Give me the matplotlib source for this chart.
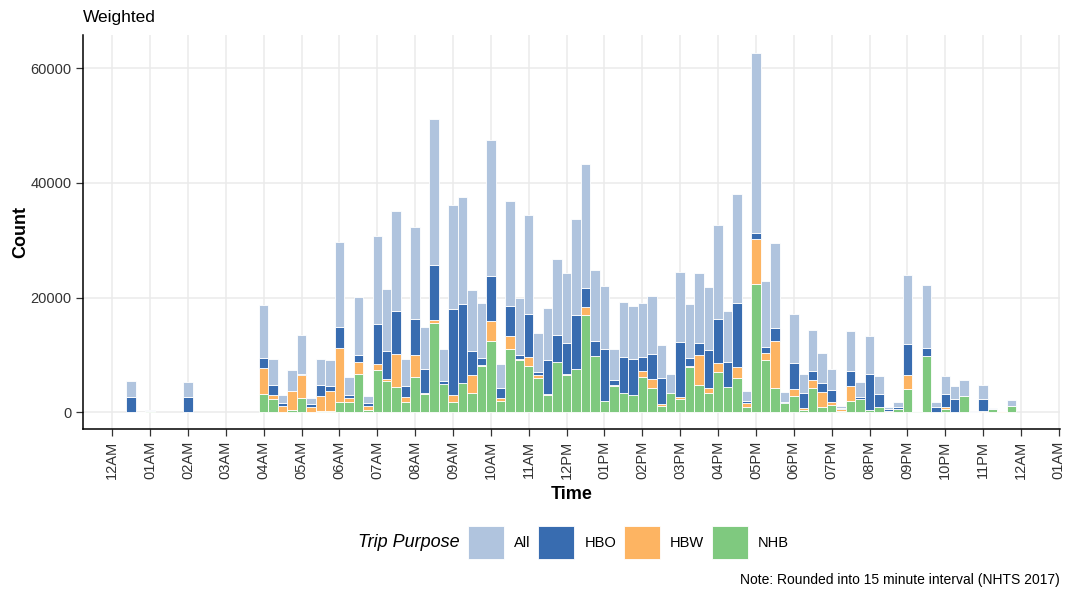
import matplotlib.pyplot as plt
import matplotlib.patches as mpatches
import numpy as np

plt.rcParams["font.family"] = ["Liberation Sans", "DejaVu Sans"]

# start of each 15 minute slot, in hours after midnight
slot_hour = [
    0.5, 0.75, 1.0, 2.0,
    4.0, 4.25, 4.5, 4.75, 5.0, 5.25, 5.5, 5.75,
    6.0, 6.25, 6.5, 6.75, 7.0, 7.25, 7.5, 7.75,
    8.0, 8.25, 8.5, 8.75, 9.0, 9.25, 9.5, 9.75,
    10.0, 10.25, 10.5, 10.75, 11.0, 11.25, 11.5, 11.75,
    12.0, 12.25, 12.5, 12.75, 13.0, 13.25, 13.5, 13.75,
    14.0, 14.25, 14.5, 14.75, 15.0, 15.25, 15.5, 15.75,
    16.0, 16.25, 16.5, 16.75, 17.0, 17.25, 17.5, 17.75,
    18.0, 18.25, 18.5, 18.75, 19.0, 19.25, 19.5, 19.75,
    20.0, 20.25, 20.5, 20.75, 21.0, 21.25, 21.5, 21.75,
    22.0, 22.25, 22.5, 22.75, 23.0, 23.25, 23.5, 23.75,
]

nhb = [
    0, 0, 300, 0,
    3200, 2270, 100, 400, 2560, 50, 170, 290,
    1800, 1740, 6690, 410, 7380, 5410, 4480, 1740,
    6160, 3200, 15520, 4880, 1800, 5060, 3310, 8150,
    12380, 2030, 10990, 9180, 8080, 6050, 3080, 8790,
    6510, 7500, 16920, 9780, 1950, 4650, 3280, 2940,
    6100, 4300, 1160, 3310, 2270, 7960, 4710, 3310,
    6980, 4420, 5990, 990, 22440, 9130, 4190, 1570,
    2910, 410, 4240, 930, 1340, 290, 1980, 2300,
    380, 870, 120, 580, 4070, 300, 9820, 0,
    640, 0, 2850, 0, 120, 520, 0, 1160,
]

hbw = [
    0, 100, 0, 0,
    4590, 750, 1000, 3310, 3890, 940, 2680, 3430,
    9480, 810, 2030, 700, 1050, 350, 5700, 990,
    3840, 120, 580, 60, 1160, 100, 3140, 50,
    3490, 520, 2380, 120, 1630, 460, 120, 50,
    170, 120, 1450, 50, 50, 120, 30, 30,
    1050, 1450, 230, 0, 460, 170, 5290, 990,
    1630, 50, 1970, 580, 7850, 1280, 8250, 120,
    1160, 410, 1400, 2670, 520, 230, 2670, 30,
    30, 120, 50, 0, 2470, 0, 0, 60,
    350, 60, 0, 0, 110, 0, 230, 0,
]

hbo = [
    2720, 0, 0, 2670,
    1630, 1690, 470, 50, 290, 410, 1860, 870,
    3660, 520, 1340, 470, 6980, 5000, 7500, 1920,
    6220, 4190, 9530, 580, 15110, 13670, 4240, 1340,
    7910, 1690, 5170, 640, 7500, 470, 5930, 4590,
    5350, 9300, 3310, 2670, 9010, 810, 6340, 6390,
    2500, 4420, 4530, 0, 9530, 1400, 2150, 6630,
    7730, 4370, 11100, 410, 1050, 1050, 2330, 170,
    4590, 2560, 1510, 1570, 1980, 170, 2500, 400,
    6220, 2210, 350, 290, 5420, 0, 1340, 810,
    2210, 2210, 0, 50, 2150, 0, 0, 0,
]

all_trips = [
    2740, 0, 100, 2670,
    9240, 4650, 1510, 3550, 6740, 1160, 4650, 4480,
    14770, 3020, 10060, 1340, 15350, 10700, 17500, 4710,
    16160, 7440, 25580, 5580, 18080, 18780, 10580, 9480,
    23660, 4190, 18370, 10000, 17270, 6920, 9010, 13310,
    12210, 16860, 21680, 12380, 10930, 5520, 9530, 9240,
    9420, 10170, 5810, 3370, 12210, 9420, 12150, 10990,
    16280, 8840, 19010, 1740, 31270, 11450, 14770, 1690,
    8550, 3310, 7210, 5170, 3780, 470, 7090, 2500,
    6630, 3140, 380, 870, 11940, 0, 10990, 870,
    3140, 2320, 2730, 150, 2330, 290, 0, 930,
]

purposes = ["All", "HBO", "HBW", "NHB"]
colors = {"All": "#B0C4DE", "HBO": "#386CB0", "HBW": "#FDB462", "NHB": "#7FC97F"}

hour_labels = ["12AM"] + [f"{h:02d}AM" for h in range(1, 12)] + ["12PM"] + \
    [f"{h:02d}PM" for h in range(1, 12)] + ["12AM", "01AM"]

fig = plt.figure(figsize=(10.72, 5.94), dpi=100)
ax = fig.add_axes([0.0771, 0.2773, 0.9117, 0.6638])

x = np.array(slot_hour)
bottom = np.zeros(len(x))
# stacked from the bottom: NHB, HBW, HBO, then All on top
for name, vals in [("NHB", nhb), ("HBW", hbw), ("HBO", hbo), ("All", all_trips)]:
    vals = np.array(vals, dtype=float)
    ax.bar(x, vals, width=0.25, bottom=bottom, color=colors[name],
           edgecolor="white", linewidth=0.6, zorder=2)
    bottom += vals

ax.set_xlim(-0.78, 25.03)
ax.set_ylim(-2965, 65800)
ax.set_xticks(np.arange(0, 26))
ax.set_xticklabels(hour_labels, rotation=90, fontsize=10.5, color="#333333")
ax.set_yticks([0, 20000, 40000, 60000])
ax.set_yticklabels(["0", "20000", "40000", "60000"], fontsize=10.5, color="#333333")
ax.tick_params(axis="both", length=5, width=0.9, color="#333333", pad=3)

ax.grid(True, color="#ebebeb", linewidth=1.1)
ax.set_axisbelow(True)
for side in ["top", "right"]:
    ax.spines[side].set_visible(False)
for side in ["left", "bottom"]:
    ax.spines[side].set_linewidth(1.1)
    ax.spines[side].set_color("black")

ax.set_xlabel("Time", fontsize=13, fontweight="bold", labelpad=5)
ax.set_ylabel("Count", fontsize=13, fontweight="bold", labelpad=1)

fig.text(0.0774, 0.971, "Weighted", fontsize=12.5, ha="left", va="center")

handles = [mpatches.Patch(facecolor=colors[p], edgecolor="white", linewidth=0.6) for p in purposes]
fig.legend(handles, purposes, loc="center left", bbox_to_anchor=(0.4366, 0.0859),
           ncol=4, frameon=False, fontsize=10.5, handlelength=2.45, handleheight=3.1,
           handletextpad=0.7, columnspacing=0.55, borderpad=0, borderaxespad=0)
fig.text(0.429, 0.0859, "Trip Purpose", fontsize=13, style="italic", ha="right", va="center")
fig.text(0.9888, 0.0236, "Note: Rounded into 15 minute interval (NHTS 2017)",
         fontsize=10, ha="right", va="center")

fig.savefig("out.png", dpi=100)
